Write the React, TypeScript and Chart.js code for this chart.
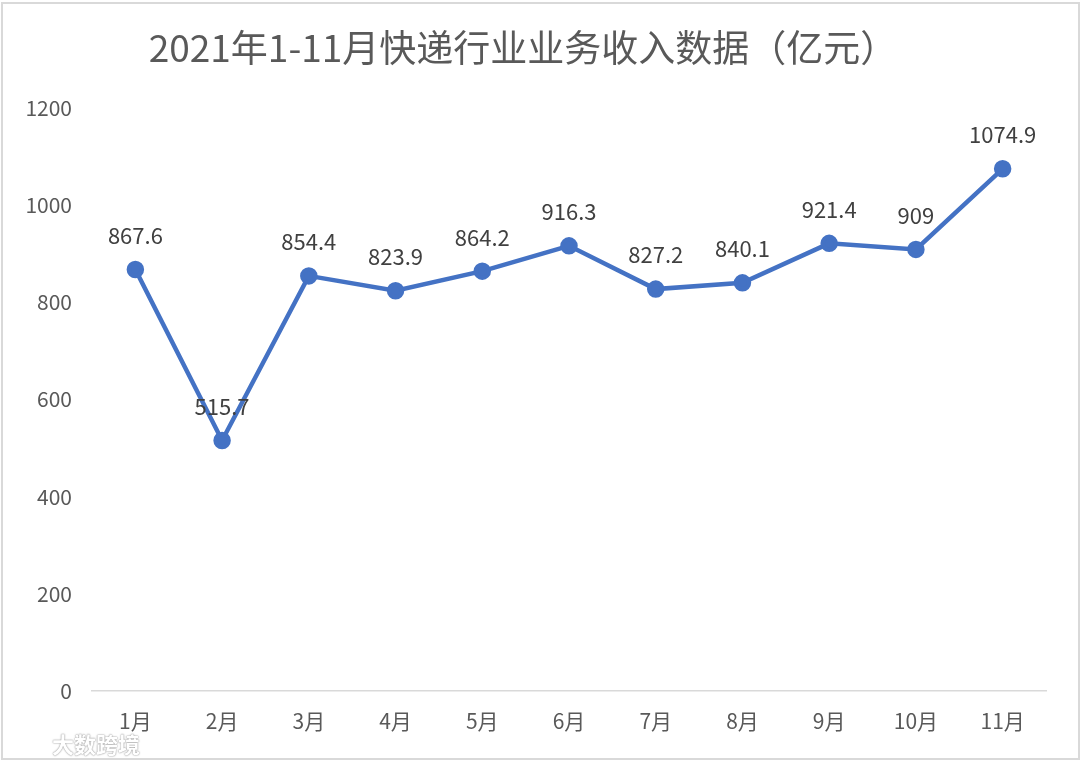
import React, { useEffect, useRef } from "react";
import { Chart, registerables } from "chart.js";

Chart.register(...registerables);

const TITLE = "2021年1-11月快递行业业务收入数据（亿元）";
const MONTHS = ["1月", "2月", "3月", "4月", "5月", "6月", "7月", "8月", "9月", "10月", "11月"];
const REVENUE = [867.6, 515.7, 854.4, 823.9, 864.2, 916.3, 827.2, 840.1, 921.4, 909, 1074.9];
const Y_MIN = 0;
const Y_MAX = 1200;
const Y_STEP = 200;

const FONT = "'Noto Sans CJK SC', 'Noto Sans', sans-serif";

const dataLabelPlugin = {
  id: "pointValueLabels",
  afterDatasetsDraw(chart: any) {
    const { ctx } = chart;
    chart.data.datasets.forEach((ds: any, di: number) => {
      const meta = chart.getDatasetMeta(di);
      meta.data.forEach((pt: any, i: number) => {
        ctx.save();
        ctx.font = `22px ${FONT}`;
        ctx.fillStyle = "#404040";
        ctx.textAlign = "center";
        ctx.textBaseline = "middle";
        ctx.fillText(String(ds.data[i]), pt.x, pt.y - 34);
        ctx.restore();
      });
    });
  },
};

export default function App() {
  const ref = useRef<HTMLCanvasElement | null>(null);

  useEffect(() => {
    if (!ref.current) return;
    const chart = new Chart(ref.current, {
      type: "line",
      data: {
        labels: MONTHS,
        datasets: [
          {
            data: REVENUE,
            borderColor: "#4472C4",
            backgroundColor: "#4472C4",
            borderWidth: 4.5,
            pointRadius: 6.5,
            pointHoverRadius: 6.5,
            pointBackgroundColor: "#4472C4",
            pointBorderColor: "#4472C4",
            tension: 0,
          },
        ],
      },
      options: {
        animation: false,
        responsive: false,
        maintainAspectRatio: false,
        layout: { padding: { left: 0, right: 34, top: 0, bottom: 0 } },
        plugins: {
          legend: { display: false },
          tooltip: { enabled: false },
          title: {
            display: true,
            text: TITLE,
            color: "#595959",
            font: { family: FONT, size: 37, weight: "normal" as any, lineHeight: 1.2 },
            padding: { top: 26, bottom: 37.6 },
          },
        },
        scales: {
          x: {
            offset: true,
            grid: { display: false, drawTicks: false },
            border: { display: true, color: "#d9d9d9", width: 1.5 },
            ticks: {
              color: "#595959",
              font: { family: FONT, size: 21 },
              padding: 17,
              maxRotation: 0,
              autoSkip: false,
            },
            afterFit(scale: any) {
              scale.height = 70;
            },
          },
          y: {
            min: Y_MIN,
            max: Y_MAX,
            grid: { display: false, drawTicks: false },
            border: { display: false },
            ticks: {
              stepSize: Y_STEP,
              color: "#595959",
              font: { family: FONT, size: 21 },
              padding: 20,
              callback: (v: any) => String(v),
            },
            afterFit(scale: any) {
              scale.width = 92;
            },
          },
        },
      },
      plugins: [dataLabelPlugin],
    });
    return () => chart.destroy();
  }, []);

  return (
    <div
      style={{
        position: "fixed",
        left: 0,
        top: 0,
        width: 1080,
        height: 761,
        background: "#fff",
        overflow: "hidden",
      }}
    >
      <canvas ref={ref} width={1080} height={761} style={{ position: "absolute", left: 0, top: 0 }} />
      <div
        style={{
          position: "absolute",
          left: 1,
          top: 2,
          width: 1075,
          height: 754,
          border: "2px solid #d9d9d9",
          pointerEvents: "none",
        }}
      />
      <div
        style={{
          position: "absolute",
          left: 52,
          top: 727,
          fontFamily: FONT,
          fontSize: 22,
          fontWeight: 700,
          color: "#ffffff",
          textShadow: "0 0 2px #9a9a9a, 0 0 1px #9a9a9a",
          letterSpacing: 0,
        }}
      >
        大数跨境
      </div>
    </div>
  );
}
